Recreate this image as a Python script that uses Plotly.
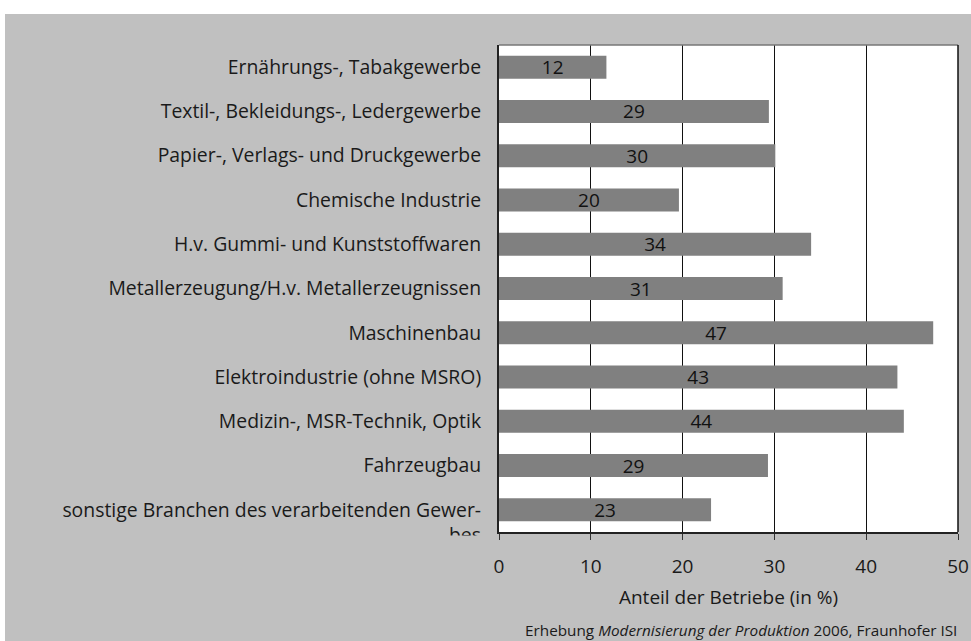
import plotly.graph_objects as go

categories = [
    "Ernährungs-, Tabakgewerbe",
    "Textil-, Bekleidungs-, Ledergewerbe",
    "Papier-, Verlags- und Druckgewerbe",
    "Chemische Industrie",
    "H.v. Gummi- und Kunststoffwaren",
    "Metallerzeugung/H.v. Metallerzeugnissen",
    "Maschinenbau",
    "Elektroindustrie (ohne MSRO)",
    "Medizin-, MSR-Technik, Optik",
    "Fahrzeugbau",
    "sonstige Branchen des verarbeitenden Gewerbes",
]
tick_labels = [
    "Ernährungs-, Tabakgewerbe",
    "Textil-, Bekleidungs-, Ledergewerbe",
    "Papier-, Verlags- und Druckgewerbe",
    "Chemische Industrie",
    "H.v. Gummi- und Kunststoffwaren",
    "Metallerzeugung/H.v. Metallerzeugnissen",
    "Maschinenbau",
    "Elektroindustrie (ohne MSRO)",
    "Medizin-, MSR-Technik, Optik",
    "Fahrzeugbau",
    "sonstige Branchen des verarbeitenden Gewer-",
]
wrapped_rest = "bes"
values = [11.7, 29.4, 30.1, 19.6, 34.0, 30.9, 47.3, 43.4, 44.1, 29.3, 23.1]
value_labels = ["12", "29", "30", "20", "34", "31", "47", "43", "44", "29", "23"]
x_ticks = [0, 10, 20, 30, 40, 50]

FONT = "Open Sans"
BG = "#c0c0c0"
FS = 19
LFS = 19.4

fig = go.Figure()
fig.add_trace(go.Bar(
    y=categories, x=values, orientation="h",
    marker=dict(color="#808080", line=dict(width=0)),
    text=value_labels,
    textposition="inside", insidetextanchor="middle", textangle=0,
    textfont=dict(family=FONT, size=FS, color="#111111"),
    constraintext="none",
    width=0.52,
    hoverinfo="skip",
))

W, H = 971, 641
L, R, T, B = 499, 13, 45, 109
pw, ph = W - L - R, H - T - B

def px_x(p):
    return (p - L) / pw

def px_y(p):
    return (H - B - p) / ph

fig.update_layout(
    width=W, height=H, autosize=False,
    margin=dict(l=L, r=R, t=T, b=B, pad=0, autoexpand=False),
    paper_bgcolor=BG, plot_bgcolor="white",
    showlegend=False,
    font=dict(family=FONT, size=FS, color="#1a1a1a"),
    xaxis=dict(
        range=[0, 50], tickvals=x_ticks, ticktext=[str(t) for t in x_ticks],
        showgrid=True, gridcolor="#111111", gridwidth=1,
        showline=True, linecolor="#222222", linewidth=2,
        ticks="outside", ticklen=6, tickcolor="#333333", tickwidth=1,
        tickfont=dict(family=FONT, size=FS, color="#1a1a1a"),
        ticklabelstandoff=10, automargin=False,
        zeroline=False,
        title=dict(text="Anteil der Betriebe (in %)", standoff=13,
                   font=dict(family=FONT, size=FS, color="#1a1a1a")),
        fixedrange=True,
    ),
    yaxis=dict(
        categoryorder="array", categoryarray=categories,
        tickvals=categories, ticktext=tick_labels,
        autorange="reversed",
        showgrid=False, showline=True, linecolor="#222222", linewidth=2,
        ticks="", ticklabelstandoff=12, automargin=False,
        tickfont=dict(family=FONT, size=LFS, color="#1a1a1a"),
        zeroline=False, fixedrange=True,
    ),
    bargap=0.48,
)

# white margin strips outside the grey frame
fig.add_shape(type="rect", xref="paper", yref="paper", layer="above",
              x0=px_x(-10), x1=px_x(W + 10), y0=px_y(14), y1=px_y(-10),
              fillcolor="white", line=dict(width=0))
fig.add_shape(type="rect", xref="paper", yref="paper", layer="above",
              x0=px_x(-10), x1=px_x(5), y0=px_y(H + 10), y1=px_y(-10),
              fillcolor="white", line=dict(width=0))
# plot border: top grey, right black
fig.add_shape(type="line", xref="paper", yref="paper", layer="above",
              x0=0, x1=1, y0=1, y1=1, line=dict(color="#777777", width=1.5))
fig.add_shape(type="line", xref="paper", yref="paper", layer="above",
              x0=1, x1=1, y0=0, y1=1, line=dict(color="#111111", width=1.5))

# wrapped remainder of last category label, clipped at the bottom
fig.add_annotation(text=wrapped_rest, xref="paper", yref="paper",
                   x=px_x(483), y=px_y(534), xanchor="right", yanchor="middle",
                   showarrow=False, font=dict(family=FONT, size=LFS, color="#1a1a1a"))
fig.add_annotation(text=" ", xref="paper", yref="paper",
                   x=px_x(462), y=px_y(545), xanchor="center", yanchor="middle",
                   width=60, height=16, bgcolor=BG, showarrow=False,
                   font=dict(size=6))

fig.add_annotation(
    text="Erhebung <i>Modernisierung der Produktion</i> 2006, Fraunhofer ISI",
    xref="paper", yref="paper", x=px_x(959), y=px_y(630),
    xanchor="right", yanchor="middle", showarrow=False,
    font=dict(family=FONT, size=15.3, color="#1a1a1a"),
)

fig.write_html("out.html", config={"displayModeBar": False},
               post_script="document.body.style.margin='0';document.body.style.overflow='hidden';")
